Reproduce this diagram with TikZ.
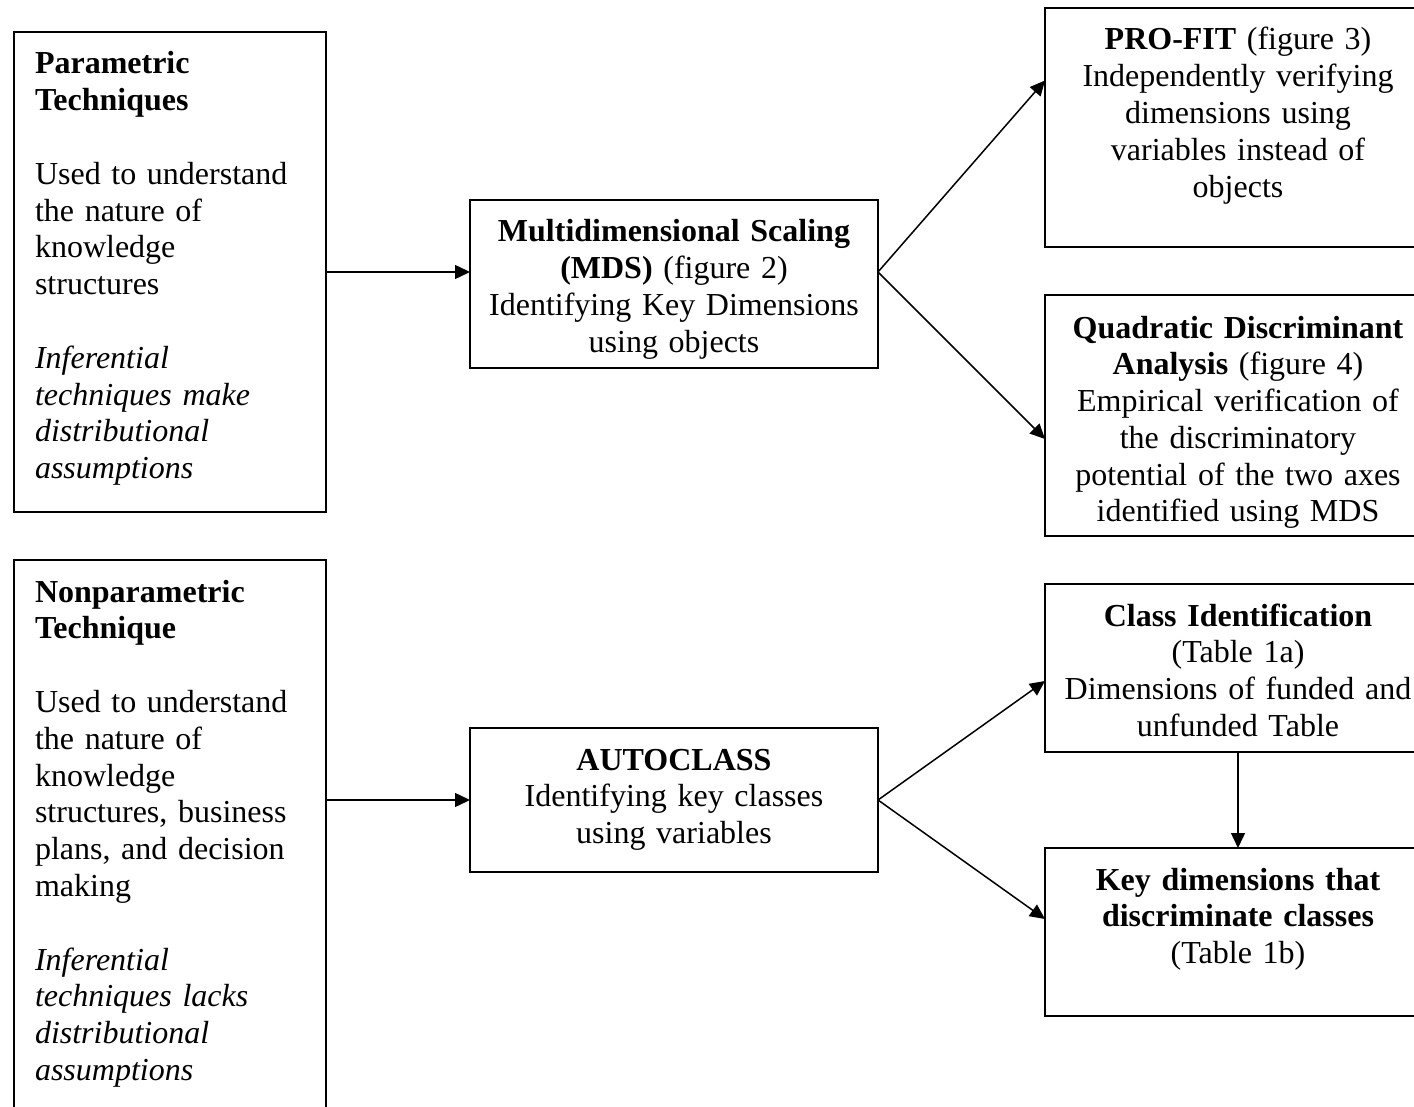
\documentclass[tikz,border=0pt]{standalone}
\usepackage{fontspec}
\setmainfont{Liberation Serif}
\usepackage{tikz}
\usetikzlibrary{arrows.meta, calc}

\tikzset{
    box/.style={rectangle, draw, line width=0.9pt, outer sep=0pt, inner ysep=0pt,
        anchor=base west, text height=21pt, font=\fontsize{16pt}{18.4pt}\selectfont},
    leftbox/.style={box, text width=135pt, inner xsep=10.5pt, align=left},
    midbox/.style={box, text width=190pt, inner xsep=7pt, align=center},
    rightbox/.style={box, text width=175pt, inner xsep=9pt, align=center},
    link/.style={-{Triangle[length=7.5pt, width=7pt]}, line width=0.75pt}
}

\begin{document}
\begin{tikzpicture}[x=0.5pt, y=-0.5pt]
    \useasboundingbox (0,0) rectangle (1414,1107);
    \clip (0,0) rectangle (1414,1107);

    % left column
    \node[leftbox, text depth=219pt] (param) at (14,74) {
        \textbf{Parametric}\\
        \textbf{Techniques}\\[18.4pt]
        Used to understand\\the nature of\\knowledge\\structures\\[18.4pt]
        \itshape Inferential\\\itshape techniques make\\\itshape distributional\\\itshape assumptions
    };
    \node[leftbox, text depth=269pt] (nonparam) at (14,602) {
        \textbf{Nonparametric}\\
        \textbf{Technique}\\[18.4pt]
        Used to understand\\the nature of\\knowledge\\structures, business\\plans, and decision\\making\\[18.4pt]
        \itshape Inferential\\\itshape techniques lacks\\\itshape distributional\\\itshape assumptions
    };

    % middle column
    \node[midbox, text depth=63pt] (mds) at (470,242) {
        \textbf{Multidimensional Scaling}\\
        \textbf{(MDS)} (figure 2)\\
        Identifying Key Dimensions\\using objects
    };
    \node[midbox, text depth=51pt] (autoclass) at (470,770) {
        \textbf{AUTOCLASS}\\
        Identifying key classes\\using variables
    };

    % right column
    \node[rightbox, text depth=98.5pt] (profit) at (1045,50) {
        \textbf{PRO-FIT} (figure 3)\\
        Independently verifying\\dimensions using\\variables instead of\\objects
    };
    \node[rightbox, text height=21.5pt, text depth=99pt] (qda) at (1045,338) {
        \textbf{Quadratic Discriminant}\\
        \textbf{Analysis} (figure 4)\\
        Empirical verification of\\the discriminatory\\potential of the two axes\\identified using MDS
    };
    \node[rightbox, text depth=63pt] (classid) at (1045,626) {
        \textbf{Class Identification}\\
        (Table 1a)\\
        Dimensions of funded and\\unfunded Table
    };
    \node[rightbox, text depth=63pt] (keydim) at (1045,890) {
        \textbf{Key dimensions that}\\
        \textbf{discriminate classes}\\
        (Table 1b)
    };

    \draw[link] (param.east) -- (param.east -| mds.west);
    \draw[link] (mds.east |- param.east) -- ($(profit.west)+(0,-47)$);
    \draw[link] (mds.east |- param.east) -- ($(qda.west)+(0,23.5)$);
    \draw[link] (autoclass.west -| nonparam.east) -- (autoclass.west);
    \draw[link] (autoclass.east) -- ($(classid.west)+(0,13)$);
    \draw[link] (autoclass.east) -- ($(keydim.west)+(0,-13)$);
    \draw[link] (classid.south) -- (keydim.north);
\end{tikzpicture}
\end{document}
